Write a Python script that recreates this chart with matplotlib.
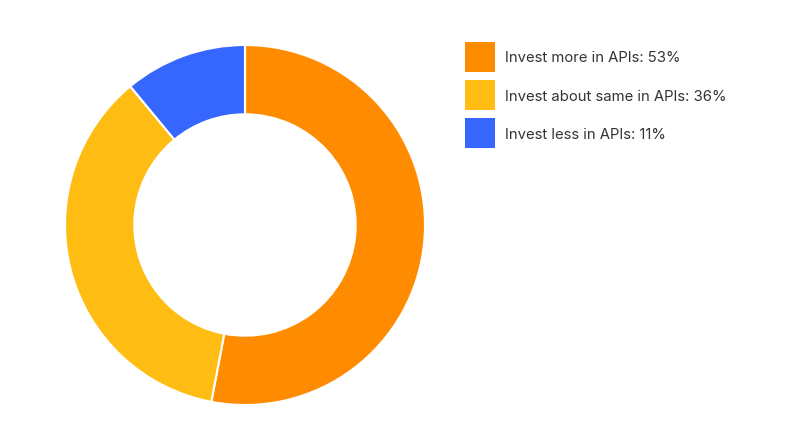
import matplotlib.pyplot as plt
from matplotlib.patches import Patch

labels = ['Invest more in APIs', 'Invest about same in APIs', 'Invest less in APIs']
shares = [53, 36, 11]
colors = ['#ff8c00', '#ffbc12', '#3567ff']

plt.rcParams['font.family'] = ['Inter', 'DejaVu Sans']

W, H = 789, 431
fig = plt.figure(figsize=(W / 100, H / 100), dpi=100)

# donut: centre (245, 226) px, outer radius 180 px
cx, cy, r = 245, 226, 180
ax = fig.add_axes([(cx - r) / W, (H - cy - r) / H, 2 * r / W, 2 * r / H])
ax.pie(shares, colors=colors, startangle=90, counterclock=False,
       wedgeprops=dict(width=0.385, edgecolor='white', linewidth=1.5))
ax.set_xlim(-1, 1)
ax.set_ylim(-1, 1)
ax.set_aspect('equal')
ax.axis('off')

fs = 10.7
handles = [Patch(facecolor=c, edgecolor='none') for c in colors]
texts = [f'{l}: {s}%' for l, s in zip(labels, shares)]
fig.legend(handles, texts, loc='upper left', bbox_to_anchor=(465 / W, 1 - 43 / H),
           frameon=False, fontsize=fs, borderpad=0, borderaxespad=0,
           handlelength=2.0, handleheight=2.7, handletextpad=0.7,
           labelspacing=0.57, labelcolor='#333333')

fig.savefig('out.png', dpi=100)
